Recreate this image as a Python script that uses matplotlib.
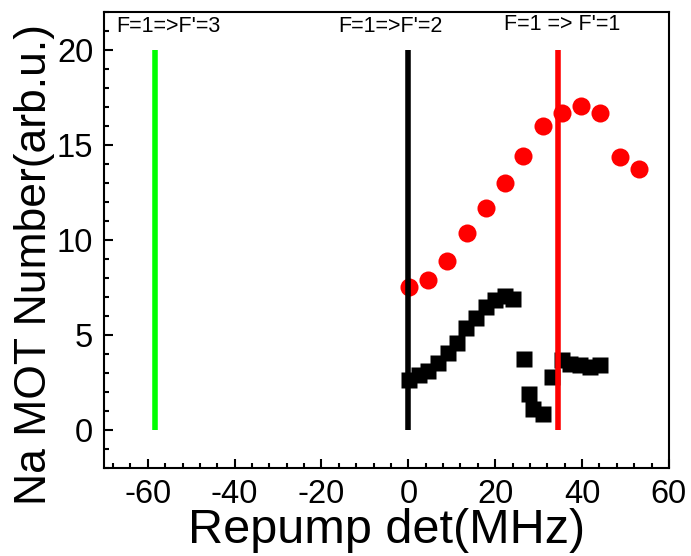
import matplotlib
matplotlib.use('Agg')
import matplotlib.pyplot as plt
from matplotlib.ticker import MultipleLocator

plt.rcParams['font.family'] = ['Liberation Sans', 'DejaVu Sans']
plt.rcParams['axes.unicode_minus'] = False

# Black squares: MOT number vs repump detuning
sq_x = [0.2, 2.5, 4.6, 6.8, 9.1, 11.2, 13.3, 15.6, 17.9, 20.0, 22.3, 24.2,
        26.7, 27.9, 28.8, 31.0, 33.1, 35.4, 37.3, 39.5, 41.8, 44.1]
sq_y = [2.62, 2.85, 3.1, 3.5, 4.04, 4.57, 5.33, 5.86, 6.47, 6.82, 7.05, 6.86,
        3.72, 1.9, 1.07, 0.81, 2.78, 3.66, 3.43, 3.39, 3.3, 3.39]

# Red circles
ci_x = [0.2, 4.6, 9.0, 13.5, 17.9, 22.3, 26.5, 30.9, 35.4, 39.8, 44.2, 48.7, 53.1]
ci_y = [7.49, 7.88, 8.88, 10.34, 11.66, 12.98, 14.42, 16.0, 16.64, 17.06, 16.68,
        14.36, 13.72]

# Hyperfine transitions (MHz)
lines_x = [-58.3, 0.0, 34.4]
lines_c = ['#00ff00', 'black', 'red']
labels = ["F=1=>F'=3", "F=1=>F'=2", "F=1 => F'=1"]
label_x = [-67.2, -16.1, 22.1]
label_y = [21.2, 21.2, 21.32]

fig = plt.figure(figsize=(6.91, 5.56), dpi=100)
ax = fig.add_axes([0.151, 0.159, 0.817, 0.820])

ax.plot(sq_x, sq_y, 's', color='black', ms=11.5, mec='none', zorder=2)
ax.plot(ci_x, ci_y, 'o', color='red', ms=13, mec='none', zorder=2)
ax.vlines(lines_x, 0, 20, colors=lines_c, lw=4, zorder=3)

for t, x, y in zip(labels, label_x, label_y):
    ax.text(x, y, t, fontsize=15.5, ha='left', va='center')

ax.set_xlim(-70, 60)
ax.set_ylim(-2, 22)
ax.xaxis.set_major_locator(MultipleLocator(20))
ax.xaxis.set_minor_locator(MultipleLocator(4))
ax.yaxis.set_major_locator(MultipleLocator(5))
ax.yaxis.set_minor_locator(MultipleLocator(1))
ax.tick_params(which='both', direction='in', top=False, right=False,
               width=1.5, labelsize=23.5)
ax.tick_params(which='major', length=6.5, pad=8)
ax.tick_params(which='minor', length=3.6)
for s in ax.spines.values():
    s.set_linewidth(1.5)

ax.set_xlabel('Repump det(MHz)', fontsize=35, labelpad=-1)
ax.set_ylabel('Na MOT Number(arb.u.)', fontsize=32)
ax.yaxis.set_label_coords(-0.088, 0.445)

fig.savefig('out.png', dpi=100)
